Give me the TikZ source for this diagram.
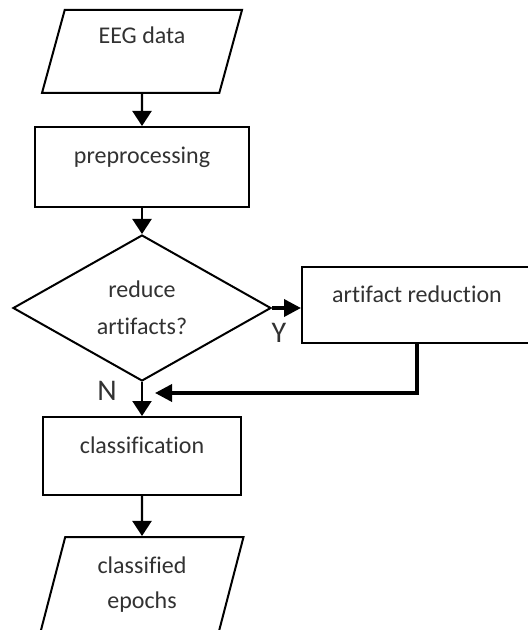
\documentclass[tikz,border=0pt]{standalone}
\usepackage{fontspec}
\setmainfont{Carlito}[Ligatures=NoCommon]
\usetikzlibrary{arrows.meta,shapes.geometric}
\definecolor{EegInk}{RGB}{0,0,0}
\definecolor{EegText}{RGB}{50,50,50}
\tikzset{
  eeg/box/.style={
    draw=EegInk,
    line width=1pt,
    fill=white,
    align=center,
    text=EegText,
    inner sep=0pt,
    text height=9pt,
    text depth=12pt,
    font=\fontsize{12}{17.5}\selectfont
  },
  eeg/io/.style={
    trapezium,
    trapezium left angle=66,
    trapezium right angle=114,
    trapezium stretches body=true,
    draw=EegInk,
    line width=1pt,
    fill=white,
    align=center,
    text=EegText,
    inner sep=0pt,
    font=\fontsize{12}{17.5}\selectfont
  },
  eeg/decision/.style={
    diamond,
    aspect=1.77,
    draw=EegInk,
    line width=1pt,
    fill=white,
    align=center,
    text=EegText,
    inner sep=0pt,
    font=\fontsize{12}{18.5}\selectfont
  },
  eeg/arrow/.style={-{Triangle[length=7.5pt,width=9.5pt]}, line width=1.1pt, draw=EegInk},
  eeg/thickarrow/.style={-{Triangle[length=8.5pt,width=8.5pt]}, line width=1.8pt, draw=EegInk},
  eeg/yn/.style={font=\fontsize{15}{18}\selectfont, text=EegText, inner sep=0pt}
}

\begin{document}
\begin{tikzpicture}[x=0.5pt,y=-0.5pt]
  \useasboundingbox (0,0) rectangle (528,630);
  \clip (0,0) rectangle (528,630);
  \node[eeg/io, minimum width=100pt, minimum height=41.5pt, text height=9pt, text depth=16.5pt] (eeg) at (142,51.5) {EEG data};
  \node[eeg/box, minimum width=107pt, minimum height=40pt] (pre) at (142,167) {preprocessing};
  \node[eeg/decision, minimum width=129pt, minimum height=73pt] (dec) at (142,308) {reduce\\artifacts?};
  \node[eeg/box, minimum width=115pt, minimum height=38pt] (art) at (417,305) {artifact reduction};
  \node[eeg/box, minimum width=99pt, minimum height=39pt] (cls) at (142,456) {classification};
  \node[eeg/io, minimum width=101.5pt, minimum height=47.5pt] (out) at (142,584.5) {classified\\epochs};
  \node[eeg/yn] (yes) at (279,333) {Y};
  \node[eeg/yn] (no) at (107,391) {N};
  \coordinate (merge) at (155,393);
  \draw[eeg/arrow] (eeg) -- (pre);
  \draw[eeg/arrow] (pre) -- (dec);
  \draw[eeg/thickarrow] (dec.east) -- (dec.east -| art.west);
  \draw[eeg/arrow] (dec) -- (cls);
  \draw[eeg/thickarrow] (art.south) |- (merge);
  \draw[eeg/arrow] (cls) -- (out);
\end{tikzpicture}
\end{document}
